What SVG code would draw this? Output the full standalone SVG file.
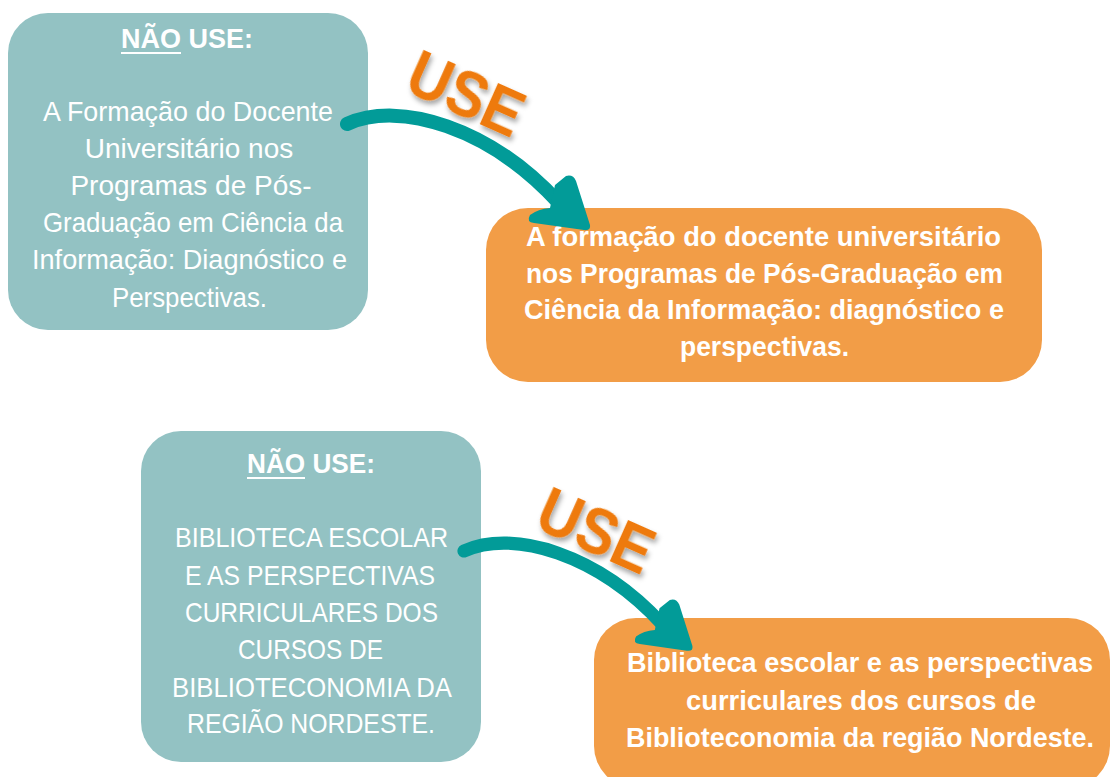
<svg xmlns="http://www.w3.org/2000/svg" width="1112" height="777" viewBox="0 0 1112 777">
  <style>
    .teal { fill: #93C2C3; }
    .orange { fill: #F29D47; }
    .t { font-family: "Liberation Sans", Arial, sans-serif; fill: #FFFFFF; font-size: 28px; }
    .b { font-weight: bold; }
    .ob { font-family: "Liberation Sans", Arial, sans-serif; fill: #FFFFFF; font-size: 27px; font-weight: bold; }
    .use { font-family: "Liberation Sans", Arial, sans-serif; fill: #EE7A0C; font-size: 64px; font-weight: bold; }
    .ul { stroke: #FFFFFF; stroke-width: 2; }
    .shaft { fill: none; stroke: #029B98; stroke-width: 14; stroke-linecap: round; }
    .head { fill: #029B98; }
  </style>
  <defs>
    <filter id="shadow" x="-20%" y="-20%" width="140%" height="140%">
      <feDropShadow dx="3" dy="3" stdDeviation="2.5" flood-color="#000000" flood-opacity="0.35"/>
    </filter>
    <g id="arrow">
      <path class="shaft" d="M 347 124 C 400 100, 490 128, 558 202"/>
      <path class="head" d="M 566 176 Q 573 174 576 181 L 590 225 Q 591 231 584 230 L 534 223 Q 526 222 530 215 Q 538 209 550 208 L 555 185 Z"/>
    </g>
  </defs>
  <rect width="1112" height="777" fill="#FFFFFF"/>

  <g id="node-nao-use-1">
    <rect class="teal" x="8" y="13" width="360" height="317" rx="40" ry="40"/>
    <text class="t b" x="121" y="48" textLength="132" lengthAdjust="spacingAndGlyphs">NÃO USE:</text>
    <line class="ul" x1="121" y1="53" x2="181" y2="53"/>
    <text class="t" x="43" y="121" textLength="290" lengthAdjust="spacingAndGlyphs">A Formação do Docente</text>
    <text class="t" x="189" y="158" text-anchor="middle">Universitário nos</text>
    <text class="t" x="191" y="195" text-anchor="middle">Programas de Pós-</text>
    <text class="t" x="43" y="232" textLength="300" lengthAdjust="spacingAndGlyphs">Graduação em Ciência da</text>
    <text class="t" x="32" y="269" textLength="315" lengthAdjust="spacingAndGlyphs">Informação: Diagnóstico e</text>
    <text class="t" x="112" y="307" textLength="155" lengthAdjust="spacingAndGlyphs">Perspectivas.</text>
  </g>

  <g id="node-use-1">
    <rect class="orange" x="486" y="208" width="556" height="174" rx="42" ry="42"/>
    <text class="ob" x="526" y="246" textLength="475" lengthAdjust="spacingAndGlyphs">A formação do docente universitário</text>
    <text class="ob" x="526" y="283" textLength="477" lengthAdjust="spacingAndGlyphs">nos Programas de Pós-Graduação em</text>
    <text class="ob" x="524" y="319" textLength="480" lengthAdjust="spacingAndGlyphs">Ciência da Informação: diagnóstico e</text>
    <text class="ob" x="680" y="356" textLength="169" lengthAdjust="spacingAndGlyphs">perspectivas.</text>
  </g>

  <g id="node-nao-use-2">
    <rect class="teal" x="141" y="431" width="340" height="331" rx="40" ry="40"/>
    <text class="t b" x="247" y="473" textLength="128" lengthAdjust="spacingAndGlyphs">NÃO USE:</text>
    <line class="ul" x1="247" y1="478" x2="305" y2="478"/>
    <text class="t" x="175" y="547" textLength="273" lengthAdjust="spacingAndGlyphs">BIBLIOTECA ESCOLAR</text>
    <text class="t" x="185" y="585" textLength="250" lengthAdjust="spacingAndGlyphs">E AS PERSPECTIVAS</text>
    <text class="t" x="185" y="622" textLength="253" lengthAdjust="spacingAndGlyphs">CURRICULARES DOS</text>
    <text class="t" x="238" y="659" textLength="145" lengthAdjust="spacingAndGlyphs">CURSOS DE</text>
    <text class="t" x="172" y="697" textLength="280" lengthAdjust="spacingAndGlyphs">BIBLIOTECONOMIA DA</text>
    <text class="t" x="187" y="733" textLength="248" lengthAdjust="spacingAndGlyphs">REGIÃO NORDESTE.</text>
  </g>

  <g id="node-use-2">
    <rect class="orange" x="594" y="618" width="516" height="170" rx="42" ry="42"/>
    <text class="ob" x="627" y="672" textLength="466" lengthAdjust="spacingAndGlyphs">Biblioteca escolar e as perspectivas</text>
    <text class="ob" x="686" y="710" textLength="350" lengthAdjust="spacingAndGlyphs">curriculares dos cursos de</text>
    <text class="ob" x="626" y="747" textLength="468" lengthAdjust="spacingAndGlyphs">Biblioteconomia da região Nordeste.</text>
  </g>

  <g id="connectors">
    <use href="#arrow"/>
    <use href="#arrow" transform="translate(464,551) scale(0.94) translate(-347,-124)"/>
  </g>

  <g id="labels">
    <text class="use" filter="url(#shadow)" text-anchor="middle" textLength="120" lengthAdjust="spacingAndGlyphs" transform="translate(457,114) rotate(24)">USE</text>
    <text class="use" filter="url(#shadow)" text-anchor="middle" textLength="120" lengthAdjust="spacingAndGlyphs" transform="translate(587,551) rotate(24)">USE</text>
  </g>
</svg>
